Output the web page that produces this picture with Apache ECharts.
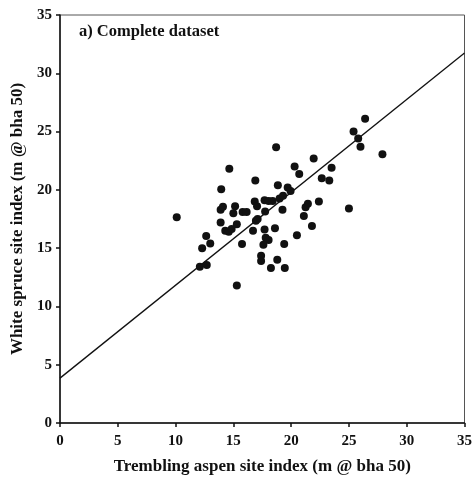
<!DOCTYPE html>
<html>
<head>
<meta charset="utf-8">
<script src="https://cdn.jsdelivr.net/npm/echarts@6/dist/echarts.min.js"></script>
<style>
  html, body { margin: 0; padding: 0; background: #fff; }
  #chart { width: 475px; height: 483px; }
</style>
</head>
<body>
<div id="chart"></div>
<script>
// trembling aspen site index (x) vs white spruce site index (y)
var aspenSI = [10.1, 12.1, 12.7, 12.3, 13.0, 12.65, 15.3, 13.9, 14.3, 14.6,
  14.85, 15.3, 13.9, 14.1, 13.95, 14.65, 15.15, 15.0, 15.8, 16.15,
  15.75, 16.7, 16.95, 17.1, 16.9, 16.85, 17.05, 17.7, 18.05, 18.4,
  17.75, 17.7, 18.6, 17.8, 18.05, 17.6, 19.4, 17.4, 17.4, 18.8,
  18.25, 19.45, 18.7, 18.85, 19.7, 19.95, 19.0, 19.3, 19.25, 20.3,
  20.7, 21.95, 23.5, 22.65, 23.3, 22.4, 21.45, 21.25, 21.1, 21.8,
  20.5, 25.0, 26.4, 25.4, 25.8, 26.0, 27.9];
var spruceSI = [17.65, 13.4, 13.55, 15.0, 15.4, 16.05, 11.8, 17.2, 16.5, 16.4,
  16.65, 17.05, 18.3, 18.55, 20.05, 21.8, 18.6, 18.0, 18.1, 18.1,
  15.35, 16.5, 17.35, 17.5, 20.8, 19.0, 18.6, 19.1, 19.05, 19.05,
  18.15, 16.6, 16.7, 15.9, 15.7, 15.3, 15.35, 14.35, 13.9, 14.0,
  13.3, 13.3, 23.65, 20.4, 20.2, 19.9, 19.25, 19.5, 18.3, 22.0,
  21.35, 22.7, 21.9, 21.0, 20.8, 19.0, 18.8, 18.5, 17.75, 16.9,
  16.1, 18.4, 26.1, 25.0, 24.4, 23.7, 23.05];

// regression line end points
var fitX = [0, 35];
var fitY = [3.85, 31.75];

var axisTicks = [0, 5, 10, 15, 20, 25, 30, 35];

var pts = [];
for (var i = 0; i < aspenSI.length; i++) pts.push([aspenSI[i], spruceSI[i]]);
var fitLine = [];
for (var j = 0; j < fitX.length; j++) fitLine.push([fitX[j], fitY[j]]);

var serif = '"Liberation Serif", "DejaVu Serif", serif';

var chart = echarts.init(document.getElementById('chart'), null, { renderer: 'canvas' });
var option = {
  animation: false,
  backgroundColor: '#fff',
  title: {
    text: 'a) Complete dataset',
    left: 74,
    top: 18,
    textStyle: { fontFamily: serif, fontWeight: 'bold', fontSize: 16.5, color: '#111' }
  },
  grid: { left: 60, right: 9, top: 15, bottom: 60, show: true, borderColor: '#555', borderWidth: 1 },
  xAxis: {
    type: 'value',
    min: axisTicks[0],
    max: axisTicks[axisTicks.length - 1],
    interval: 5,
    name: 'Trembling aspen site index (m @ bha 50)',
    nameLocation: 'middle',
    nameGap: 35,
    nameTextStyle: { fontFamily: serif, fontWeight: 'bold', fontSize: 17, color: '#111' },
    axisLine: { lineStyle: { color: '#111', width: 1.5 } },
    axisTick: { show: true, length: 4, lineStyle: { color: '#111', width: 1.5 } },
    axisLabel: { fontFamily: serif, fontWeight: 'bold', fontSize: 15, color: '#111', margin: 11 },
    splitLine: { show: false }
  },
  yAxis: {
    type: 'value',
    min: axisTicks[0],
    max: axisTicks[axisTicks.length - 1],
    interval: 5,
    name: 'White spruce site index (m @ bha 50)',
    nameLocation: 'middle',
    nameGap: 34,
    nameTextStyle: { fontFamily: serif, fontWeight: 'bold', fontSize: 17, color: '#111' },
    axisLine: { lineStyle: { color: '#111', width: 1.5 } },
    axisTick: { show: true, length: 4, lineStyle: { color: '#111', width: 1.5 } },
    axisLabel: { fontFamily: serif, fontWeight: 'bold', fontSize: 15, color: '#111', margin: 8 },
    splitLine: { show: false }
  },
  series: [
    {
      name: 'fit',
      type: 'line',
      data: fitLine,
      showSymbol: false,
      lineStyle: { color: '#111', width: 1.3 },
      z: 1
    },
    {
      name: 'plots',
      type: 'scatter',
      data: pts,
      symbolSize: 8,
      itemStyle: { color: '#111', opacity: 1 },
      z: 2
    }
  ]
};
chart.setOption(option);
</script>
</body>
</html>
